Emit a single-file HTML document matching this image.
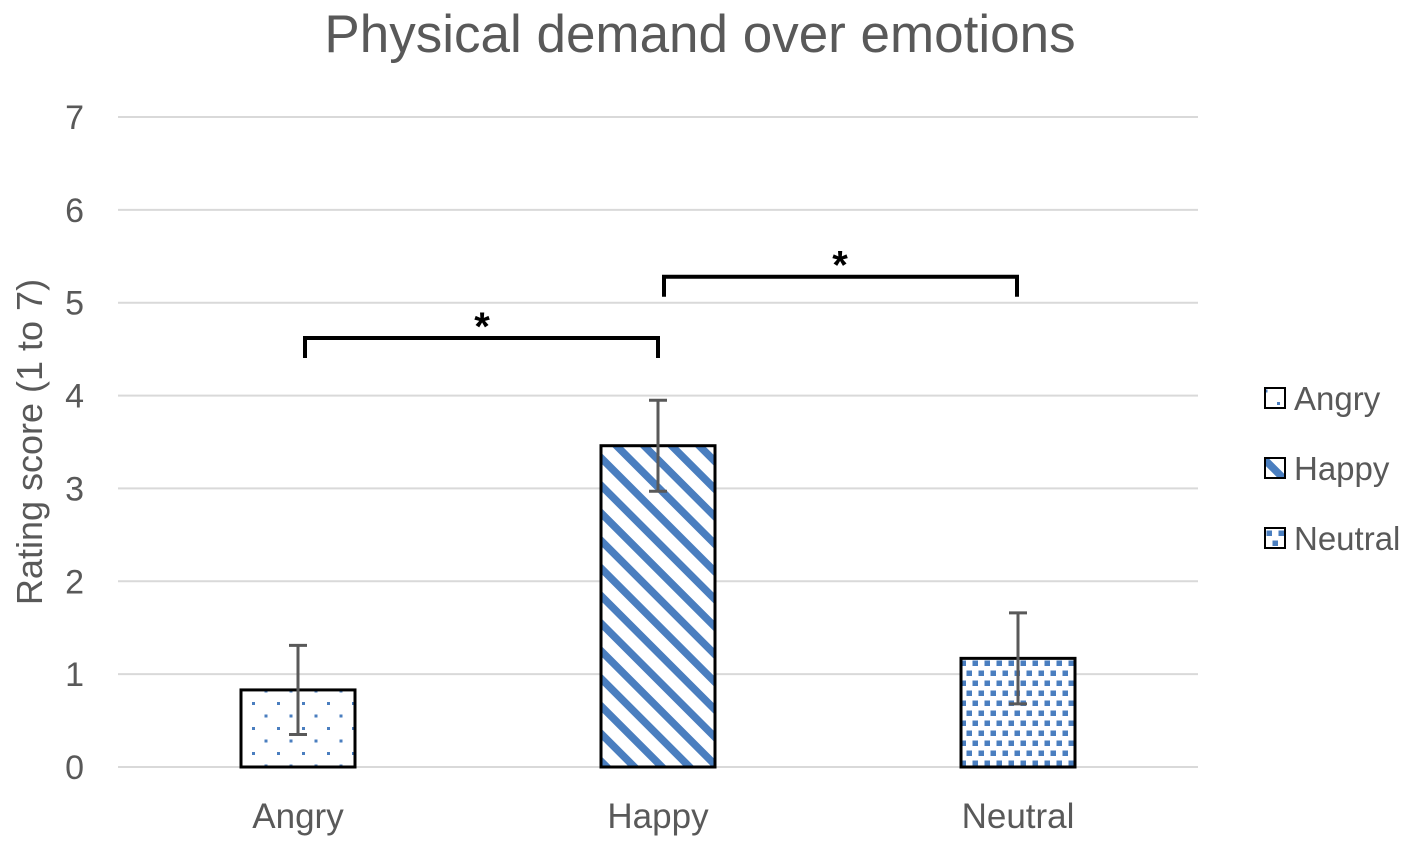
<!DOCTYPE html>
<html><head><meta charset="utf-8"><style>
body{margin:0;background:#fff;}
svg{display:block;font-family:"Liberation Sans",sans-serif;}
</style></head><body>
<svg id="c" width="1418" height="842" viewBox="0 0 1418 842">
<defs>
<pattern id="pAngry" width="25" height="25" patternUnits="userSpaceOnUse" x="2" y="2">
<rect width="25" height="25" fill="#fff"/>
<rect x="0" y="0" width="3" height="3" fill="#4a7ebf"/>
<rect x="12.5" y="12.5" width="3" height="3" fill="#4a7ebf"/>
</pattern>
<pattern id="pHappy" width="19.5" height="19.5" patternUnits="userSpaceOnUse" patternTransform="rotate(-45)">
<rect width="19.5" height="19.5" fill="#fff"/>
<rect x="0" y="0" width="7.5" height="19.5" fill="#4a7ebf"/>
</pattern>
<pattern id="pNeutral" width="12" height="20" patternUnits="userSpaceOnUse">
<rect width="12" height="20" fill="#fff"/>
<rect x="0.5" y="0.5" width="5.5" height="5.5" fill="#4a7ebf"/>
<rect x="6.5" y="10.5" width="5.5" height="5.5" fill="#4a7ebf"/>
</pattern>
</defs>
<text x="700" y="52" font-size="53" fill="#595959" text-anchor="middle">Physical demand over emotions</text>
<text transform="translate(42,442) rotate(-90)" font-size="36" fill="#595959" text-anchor="middle">Rating score (1 to 7)</text>
<g id="grid"></g><g id="bars"></g><g id="ann"></g><g id="legend"></g>
</svg>
<script>
const categories=["Angry","Happy","Neutral"];
const values=[0.83,3.46,1.17];
const errors=[0.48,0.49,0.49];
const yTicks=[0,1,2,3,4,5,6,7];
const patterns=["pAngry","pHappy","pNeutral"];
const NS="http://www.w3.org/2000/svg";
const y0=767,y7=117,x0=118,x1=1198;
const Y=v=>y0-(y0-y7)*v/7;
const X=i=>298+i*360;
function mk(t,a,p){const e=document.createElementNS(NS,t);for(const k in a)e.setAttribute(k,a[k]);p.appendChild(e);return e;}
const g=document.getElementById('grid');
yTicks.forEach(t=>{
 const l=mk('line',{x1:x0,x2:x1,y1:Y(t),y2:Y(t),stroke:'#d9d9d9','stroke-width':2},g);
 
 
 const tx=mk('text',{x:84,y:Y(t)+12,'font-size':34,fill:'#595959','text-anchor':'end'},g);tx.textContent=t;
 
 
});
const b=document.getElementById('bars');
categories.forEach((c,i)=>{
 const r=mk('rect',{x:X(i)-57,y:Y(values[i]),width:114,height:Y(0)-Y(values[i]),fill:'url(#'+patterns[i]+')',stroke:'#000','stroke-width':3},b);
 
 
 const eg=mk('g',{stroke:'#595959','stroke-width':3},b);
 
 
 const hi=Y(values[i]+errors[i]),lo=Y(values[i]-errors[i]);
 mk('line',{x1:X(i),x2:X(i),y1:hi,y2:lo},eg);
 mk('line',{x1:X(i)-9,x2:X(i)+9,y1:hi,y2:hi},eg);
 mk('line',{x1:X(i)-9,x2:X(i)+9,y1:lo,y2:lo},eg);
 const t=mk('text',{x:X(i),y:828,'font-size':35,fill:'#595959','text-anchor':'middle'},b);t.textContent=c;
 
 
});
const a=document.getElementById('ann');
[[305,658,4.62,482],[664,1017,5.28,840]].forEach((s,k)=>{
 const p=mk('path',{d:`M${s[0]} ${Y(s[2])+20}V${Y(s[2])}H${s[1]}V${Y(s[2])+20}`,fill:'none',stroke:'#000','stroke-width':4},a);
 
 
 const t=mk('text',{x:s[3],y:Y(s[2])+2,'font-size':40,'font-weight':'bold','text-anchor':'middle',fill:'#000'},a);t.textContent='*';
 
 
});
const lg=document.getElementById('legend');
categories.forEach((c,i)=>{
 const y=398+i*70;
 const e=mk('g',{},lg);
 
 
 mk('rect',{x:1265,y:y-10,width:20,height:20,fill:'url(#'+patterns[i]+')',stroke:'#000','stroke-width':2},e);
 const t=mk('text',{x:1294,y:y+12,'font-size':33,fill:'#595959'},e);t.textContent=c;
});
</script>
</body></html>
